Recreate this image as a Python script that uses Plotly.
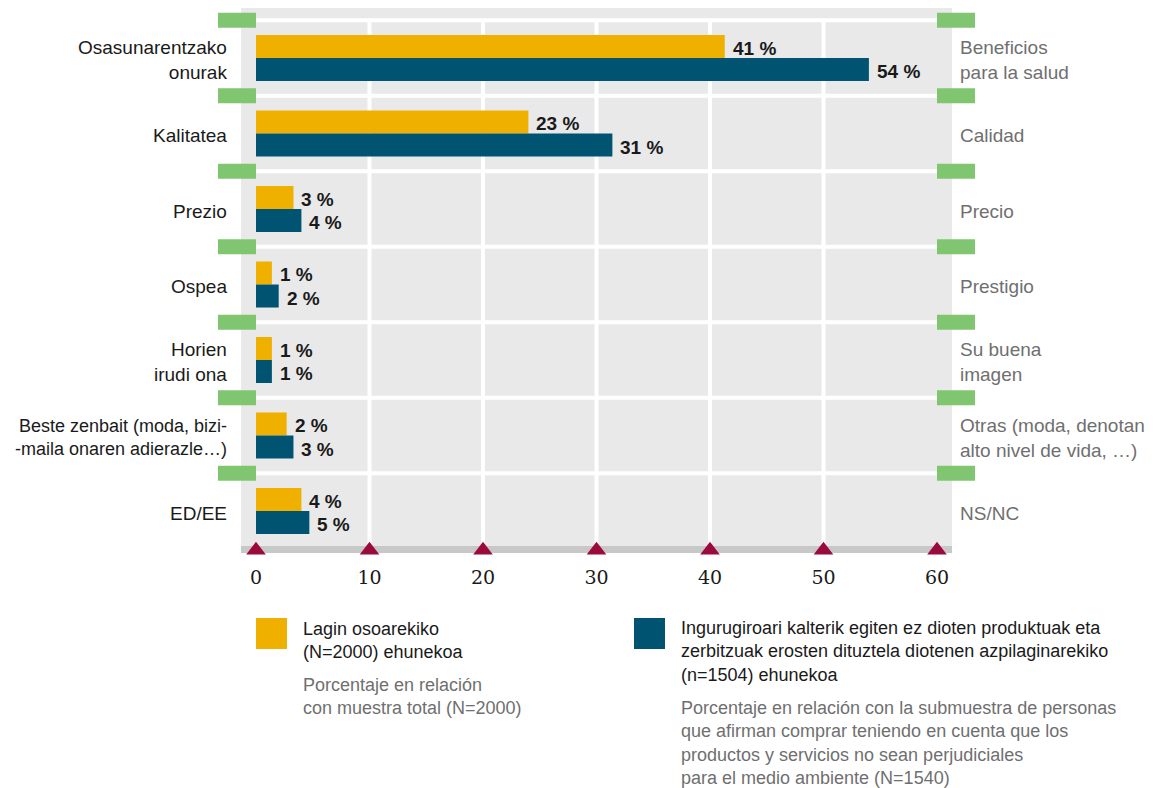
import plotly.graph_objects as go

# ---------------- data ----------------
cats_eu = ["Osasunarentzako<br>onurak", "Kalitatea", "Prezio", "Ospea",
           "Horien<br>irudi ona", "Beste zenbait (moda, bizi-<br>-maila onaren adierazle…)", "ED/EE"]
cats_es = ["Beneficios<br>para la salud", "Calidad", "Precio", "Prestigio",
           "Su buena<br>imagen", "Otras (moda, denotan<br>alto nivel de vida, …)", "NS/NC"]
total_vals = [41.3, 24.0, 3.3, 1.4, 1.4, 2.7, 4.0]
sub_vals = [54.0, 31.4, 4.0, 2.0, 1.4, 3.3, 4.7]
total_labels = ["41 %", "23 %", "3 %", "1 %", "1 %", "2 %", "4 %"]
sub_labels = ["54 %", "31 %", "4 %", "2 %", "1 %", "3 %", "5 %"]
x_ticks = [0, 10, 20, 30, 40, 50, 60]

legend_total_eu = "Lagin osoarekiko<br>(N=2000) ehunekoa"
legend_total_es = "Porcentaje en relación<br>con muestra total (N=2000)"
legend_sub_eu = ("Ingurugiroari kalterik egiten ez dioten produktuak eta<br>"
                 "zerbitzuak erosten dituztela diotenen azpilaginarekiko<br>(n=1504) ehunekoa")
legend_sub_es = ("Porcentaje en relación con la submuestra de personas<br>"
                 "que afirman comprar teniendo en cuenta que los<br>"
                 "productos y servicios no sean perjudiciales<br>"
                 "para el medio ambiente (N=1540)")

# ---------------- style ----------------
ORANGE = "#F0B000"
BLUE = "#005472"
GREEN = "#80C670"
BG = "#E9E9E9"
DARKGREY = "#C8C8C8"
TRI = "#9B0A3C"
BLACK = "#1a1a1a"
GREY = "#6f6f6f"
SANS = "Liberation Sans, Arial, sans-serif"
SERIF = "DejaVu Serif, Liberation Serif, serif"

OFF = 8                      # page body margin
W, H = 1162 - OFF, 788 - OFF
L, R, T, B = 241, 952, 8, 553  # plot area in page pixels
n = len(cats_eu)
rows = list(range(n))
BW = 0.305
X0PX, XSCALE = 256, 11.35
Y0PX, YSCALE = 58, 75.5

def px_x(p):
    return (p - L) / (R - L)

def px_y(p):
    return (B - p) / (B - T)

fig = go.Figure()
fig.add_trace(go.Bar(y=rows, x=total_vals, orientation="h", width=BW, offset=-BW,
                     marker=dict(color=ORANGE, line=dict(width=0)), hoverinfo="skip"))
fig.add_trace(go.Bar(y=rows, x=sub_vals, orientation="h", width=BW, offset=0,
                     marker=dict(color=BLUE, line=dict(width=0)), hoverinfo="skip"))
fig.add_trace(go.Scatter(x=x_ticks, y=[6.52] * len(x_ticks), mode="markers",
                         marker=dict(symbol="triangle-up", size=17, color=TRI),
                         cliponaxis=False, hoverinfo="skip"))

shapes = []
for i in range(n):
    shapes.append(dict(type="line", xref="paper", yref="y", x0=0, x1=1, y0=i - 0.5, y1=i - 0.5,
                       line=dict(color="white", width=4), layer="below"))
for t in x_ticks[1:-1]:
    shapes.append(dict(type="line", xref="x", yref="y", x0=t, x1=t, y0=-0.5, y1=6.5,
                       line=dict(color="white", width=4), layer="below"))
shapes.append(dict(type="rect", xref="paper", yref="paper", x0=0, x1=1, y0=0, y1=px_y(546),
                   fillcolor=DARKGREY, line=dict(width=0), layer="below"))
for i in range(n):
    for (a, b) in [(218, 256), (937, 975)]:
        shapes.append(dict(type="rect", xref="paper", yref="y", x0=px_x(a), x1=px_x(b),
                           y0=i - 0.5 - 0.1, y1=i - 0.5 + 0.1,
                           fillcolor=GREEN, line=dict(width=0), layer="above"))
shapes.append(dict(type="rect", xref="paper", yref="paper", x0=px_x(256), x1=px_x(287),
                   y0=px_y(649), y1=px_y(618), fillcolor=ORANGE, line=dict(width=0)))
shapes.append(dict(type="rect", xref="paper", yref="paper", x0=px_x(634), x1=px_x(665),
                   y0=px_y(649), y1=px_y(618), fillcolor=BLUE, line=dict(width=0)))

ann = []
for i in range(n):
    lab_size = 18 if len(cats_eu[i]) > 30 else 19
    ann.append(dict(x=px_x(229), y=i, xref="paper", yref="y", text=cats_eu[i], showarrow=False,
                    xanchor="right", yanchor="middle", align="right", yshift=-2,
                    font=dict(family=SANS, size=lab_size, color=BLACK)))
    ann.append(dict(x=px_x(958), y=i, xref="paper", yref="y", text=cats_es[i], showarrow=False,
                    xanchor="left", yanchor="middle", align="left", yshift=-2,
                    font=dict(family=SANS, size=19, color=GREY)))
    ann.append(dict(x=total_vals[i], y=i - BW / 2, xref="x", yref="y", text="<b>%s</b>" % total_labels[i],
                    showarrow=False, xanchor="left", yanchor="middle", xshift=6, yshift=-2,
                    font=dict(family=SANS, size=19, color=BLACK)))
    ann.append(dict(x=sub_vals[i], y=i + BW / 2, xref="x", yref="y", text="<b>%s</b>" % sub_labels[i],
                    showarrow=False, xanchor="left", yanchor="middle", xshift=6, yshift=-2,
                    font=dict(family=SANS, size=19, color=BLACK)))

def legend_text(x, ytop, text, color):
    return dict(x=px_x(x), y=px_y(ytop), xref="paper", yref="paper", text=text, showarrow=False,
                xanchor="left", yanchor="top", align="left", borderpad=0,
                font=dict(family=SANS, size=18, color=color))

ann.append(legend_text(302, 618, legend_total_eu, BLACK))
ann.append(legend_text(302, 674, legend_total_es, GREY))
ann.append(legend_text(680, 617, legend_sub_eu, BLACK))
ann.append(legend_text(680, 697, legend_sub_es, GREY))

fig.update_layout(
    width=W, height=H,
    margin=dict(l=L - OFF, r=OFF + W - R, t=T - OFF, b=OFF + H - B, pad=0),
    paper_bgcolor="white", plot_bgcolor=BG,
    showlegend=False,
    xaxis=dict(range=[(L - X0PX) / XSCALE, (R - X0PX) / XSCALE], tickvals=x_ticks,
               ticktext=[str(t) for t in x_ticks], showgrid=False, zeroline=False,
               showline=False, ticks="", ticklabelstandoff=11,
               tickfont=dict(family=SERIF, size=19, color=BLACK), fixedrange=True),
    yaxis=dict(range=[(B - Y0PX) / YSCALE, (T - Y0PX) / YSCALE], showgrid=False, zeroline=False,
               showticklabels=False, showline=False, ticks="", fixedrange=True),
    shapes=shapes, annotations=ann,
)

fig.write_html("out.html")
